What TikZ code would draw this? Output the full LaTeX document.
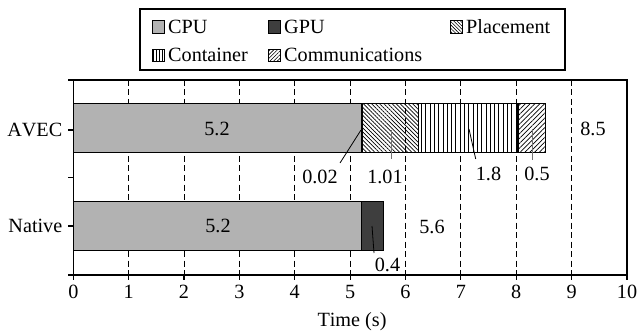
\documentclass[tikz,border=0pt]{standalone}
\usepackage{fontspec}
\setmainfont[Kerning=Off]{Liberation Serif}
\usetikzlibrary{patterns.meta}
\definecolor{cpugray}{RGB}{178,178,178}
\definecolor{gpudark}{RGB}{62,62,62}
\definecolor{leadergray}{RGB}{115,115,115}
\tikzset{
  seg/.style={draw=black, line width=1.4pt},
  cpu/.style={seg, fill=cpugray},
  gpu/.style={seg, fill=gpudark},
  placement/.style={seg, pattern={Lines[angle=-45,distance=2.9pt,line width=0.7pt]}},
  container/.style={seg, pattern={Lines[angle=90,distance=4.3pt,line width=0.7pt]}},
  comms/.style={seg, pattern={Lines[angle=45,distance=3.4pt,line width=0.7pt]}},
  legicon/.style={draw=black, line width=0.8pt, minimum size=12.5pt, inner sep=0pt},
  txt/.style={inner sep=0pt},
  gridline/.style={line width=0.8pt, dash pattern=on 6pt off 3.5pt},
  leader/.style={line width=0.8pt, black},
  leadergrey/.style={line width=1pt, leadergray},
}
\begin{document}
\begin{tikzpicture}[x=1pt, y=-1pt, font=\fontsize{20.2}{23}\selectfont]
\useasboundingbox (0,0) rectangle (639,331);
\fill[white] (0,0) rectangle (639,331);

% legend
\draw[line width=1.2pt] (140,9) rectangle (565,70);
\node[legicon, fill=cpugray] (kcpu) at (158.3,27) {};
\node[txt, anchor=base west] (tcpu) at (168,33.5) {CPU};
\node[legicon, fill=gpudark] (kgpu) at (274.5,27) {};
\node[txt, anchor=base west] (tgpu) at (284,33.5) {GPU};
\node[legicon, pattern={Lines[angle=-45,distance=2.4pt,line width=0.6pt]}] (kplc) at (456.5,27) {};
\node[txt, anchor=base west] (tplc) at (466,33.5) {Placement};
\node[legicon, pattern={Lines[angle=90,distance=3pt,line width=0.6pt]}] (kcnt) at (158.3,55.5) {};
\node[txt, anchor=base west] (tcnt) at (168,61.8) {Container};
\node[legicon, pattern={Lines[angle=45,distance=2.6pt,line width=0.6pt]}] (kcom) at (274.5,55.5) {};
\node[txt, anchor=base west] (tcom) at (284,61.8) {Communications};

% plot area: x in seconds, y in points
\begin{scope}[shift={(73.3,0)}, x=55.37pt]
  \foreach \v in {1,...,9} \draw[gridline] (\v,80) -- (\v,275);

  % AVEC
  \draw[cpu] (0,103.3) rectangle (5.2,152.7);
  \draw[gpu] (5.2,103.3) rectangle (5.22,152.7);
  \draw[placement] (5.22,103.3) rectangle (6.23,152.7);
  \draw[container] (6.23,103.3) rectangle (8.03,152.7);
  \draw[comms] (8.03,103.3) rectangle (8.53,152.7);
  % Native
  \draw[cpu] (0,201.7) rectangle (5.2,250.3);
  \draw[gpu] (5.2,201.7) rectangle (5.6,250.3);

  % frame and ticks
  \draw[line width=1.2pt] (0,80) rectangle (10,275);
  \foreach \yy in {80,130,177.5,226,275} \draw[line width=1.2pt] (0,\yy) -- ++(-5pt,0);
  \foreach \v in {0,...,10} {
    \draw[line width=1.2pt] (\v,275) -- ++(0,5);
    \node[txt, anchor=base] (xt\v) at (\v,298.5) {\v};
  }
\end{scope}

% axis and category labels
\node[txt, anchor=east] (cavec) at (62.5,130) {AVEC};
\node[txt, anchor=east] (cnative) at (62.5,226) {Native};
\node[txt, anchor=base] (xlabel) at (352,326.7) {Time (s)};

% value labels
\node[txt, anchor=base] (v52a) at (217,136) {5.2};
\node[txt, anchor=base] (v52n) at (218,232.7) {5.2};
\node[txt, anchor=base] (v85) at (593,135.7) {8.5};
\node[txt, anchor=base] (v56) at (432,233) {5.6};
\node[txt, anchor=base] (v002) at (320,183) {0.02};
\node[txt, anchor=base] (v101) at (385,183) {1.01};
\node[txt, anchor=base] (v18) at (488.5,180) {1.8};
\node[txt, anchor=base] (v05) at (537,180) {0.5};
\node[txt, anchor=base] (v04) at (387.5,271.7) {0.4};

% leader ends
\coordinate (b002) at (361,130);
\coordinate (e002) at (340,163);
\coordinate (b101) at (391,130);
\coordinate (e101) at (391,159);
\coordinate (b18) at (469,129);
\coordinate (e18) at (475.7,159);
\coordinate (b05) at (532,129);
\coordinate (e05) at (532,160);
\coordinate (b04) at (372,226);
\coordinate (e04) at (374,253);
\draw[leader] (e002) -- (b002);
\draw[leadergrey] (e101) -- (b101);
\draw[leader] (e18) -- (b18);
\draw[leadergrey] (e05) -- (b05);
\draw[leader] (e04) -- (b04);
\end{tikzpicture}
\end{document}
